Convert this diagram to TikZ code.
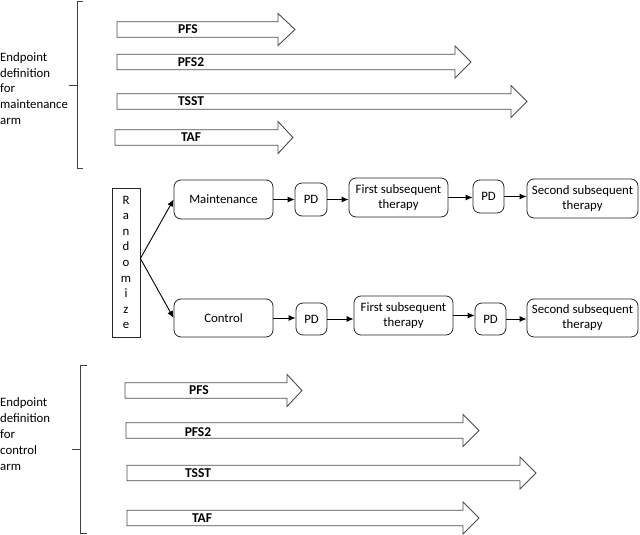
\documentclass[tikz,border=0pt]{standalone}
\usepackage{fontspec}
\setmainfont{Carlito}
\usetikzlibrary{arrows.meta,calc}
\tikzset{
  flowbox/.style={draw=black!85, line width=0.8pt, rounded corners=7pt, align=center, inner sep=0pt,
    font=\fontsize{12.8}{15}\selectfont},
  conn/.style={draw=black, line width=0.9pt, -{Latex[length=7pt,width=6pt]}},
  bigarrow/.style={draw=black!70, line width=0.9pt, fill=white, line join=miter},
  eplabel/.style={font=\fontsize{13.5}{15}\selectfont\bfseries, inner sep=0pt},
  sidetext/.style={align=left, inner sep=0pt, anchor=west, font=\fontsize{12.8}{15.8}\selectfont},
  bracepath/.style={draw=black!75, line width=0.8pt}
}
% #1 name, #2 left x, #3 centre y, #4 head start x, #5 tip x
\newcommand{\eparrow}[5]{%
  \path[bigarrow] (#2,#3-7.75) -- (#4,#3-7.75) -- (#4,#3-16) -- (#5,#3) -- (#4,#3+16) -- (#4,#3+7.75) -- (#2,#3+7.75) -- cycle;
  \coordinate (#1) at (#2,#3);
}
\begin{document}
\begin{tikzpicture}[x=1pt,y=-1pt]
\useasboundingbox (0,0) rectangle (640,535);

% ---------- top endpoint definitions ----------
\node[sidetext] (toptext) at (0,88.5) {Endpoint\\definition\\for\\maintenance\\arm};
\path[bracepath] (83,1.5) -- (77,1.5) -- (77,168.5) -- (83,168.5);
\path[bracepath] (68.5,85.5) -- (77,85.5);

\eparrow{a1}{117}{29.5}{278}{295}
\node[eplabel] (l1) at (188,29.5) {PFS};
\eparrow{a2}{117}{62}{455}{471}
\node[eplabel] (l2) at (191,62) {PFS2};
\eparrow{a3}{117}{101.5}{511}{527}
\node[eplabel] (l3) at (191,101.5) {TSST};
\eparrow{a4}{115}{137.5}{278}{293}
\node[eplabel] (l4) at (191,137.5) {TAF};

% ---------- flow ----------
\node[draw=black!85, line width=0.8pt, minimum width=28pt, minimum height=149pt, inner sep=0pt, align=center,
  font=\fontsize{12.8}{15.6}\selectfont] (rand) at (126,262.5) {R\\a\\n\\d\\o\\m\\i\\z\\e};

\node[flowbox, minimum width=99pt, minimum height=39pt] (maint) at (223.5,199.5) {Maintenance};
\node[flowbox, minimum width=32pt, minimum height=33pt] (pd1) at (311,199.5) {PD};
\node[flowbox, minimum width=99pt, minimum height=39pt] (fst1) at (398.5,197.5) {First subsequent\\therapy};
\node[flowbox, minimum width=31pt, minimum height=33pt] (pd2) at (488.5,196.5) {PD};
\node[flowbox, minimum width=111pt, minimum height=39pt] (sst1) at (582.5,198.5) {Second subsequent\\therapy};

\node[flowbox, minimum width=99pt, minimum height=38pt] (ctrl) at (223.5,318) {Control};
\node[flowbox, minimum width=31pt, minimum height=32pt] (pd3) at (311.5,319) {PD};
\node[flowbox, minimum width=99pt, minimum height=39pt] (fst2) at (403.5,315.5) {First subsequent\\therapy};
\node[flowbox, minimum width=31pt, minimum height=32pt] (pd4) at (490.5,319) {PD};
\node[flowbox, minimum width=111pt, minimum height=38pt] (sst2) at (582.5,318) {Second subsequent\\therapy};

\coordinate (rsplit) at ($(rand.east)+(0,-4)$);
\draw[conn] (rsplit) -- (maint.west);
\draw[conn] (rsplit) -- (ctrl.west);

\draw[conn] (maint.east) -- (maint.east -| pd1.west);
\draw[conn] (pd1.east) -- (pd1.east -| fst1.west);
\draw[conn] (fst1.east) -- (fst1.east -| pd2.west);
\draw[conn] (pd2.east) -- (pd2.east -| sst1.west);

\draw[conn] (ctrl.east) -- (ctrl.east -| pd3.west);
\draw[conn] (pd3.east) -- (pd3.east -| fst2.west);
\draw[conn] (fst2.east) -- (fst2.east -| pd4.west);
\draw[conn] (pd4.east) -- (pd4.east -| sst2.west);

% ---------- bottom endpoint definitions ----------
\node[sidetext] (bottext) at (0,434) {Endpoint\\definition\\for\\control\\arm};
\path[bracepath] (87,365.5) -- (80,365.5) -- (80,533) -- (87,533);
\path[bracepath] (72,449) -- (80,449);

\eparrow{b1}{125}{390.5}{287}{302}
\node[eplabel] (m1) at (199,390.5) {PFS};
\eparrow{b2}{126}{430.5}{463}{479}
\node[eplabel] (m2) at (198,432) {PFS2};
\eparrow{b3}{127}{473}{520}{536}
\node[eplabel] (m3) at (198,473) {TSST};
\eparrow{b4}{127}{518}{463}{479}
\node[eplabel] (m4) at (202,518) {TAF};
\end{tikzpicture}
\end{document}
